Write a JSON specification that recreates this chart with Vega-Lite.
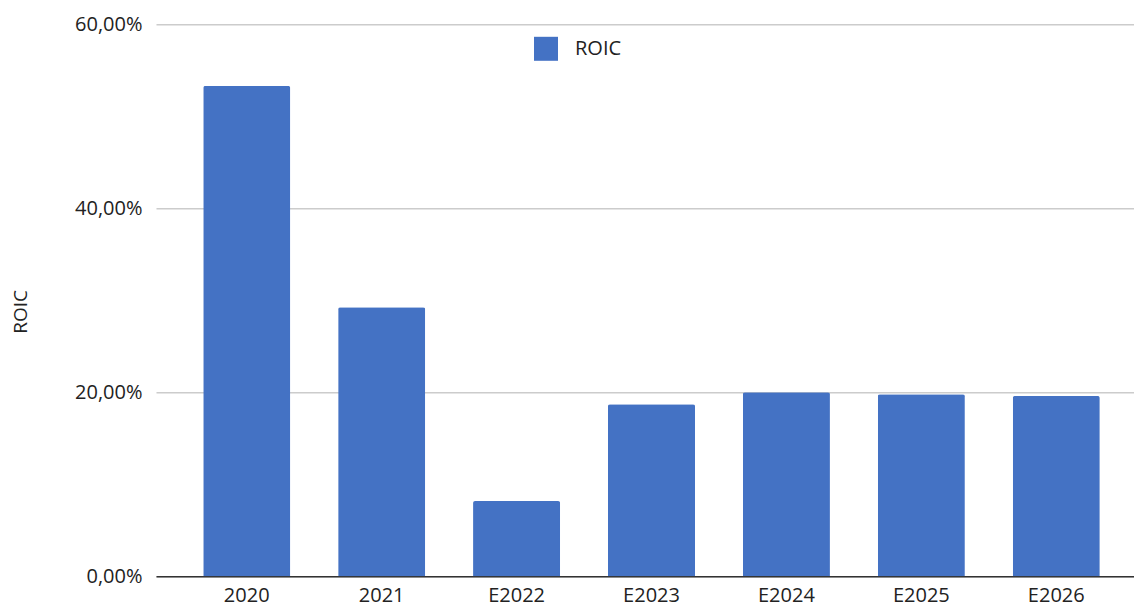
{
  "$schema": "https://vega.github.io/schema/vega-lite/v6.json",
  "autosize": {"type": "none"},
  "width": 978,
  "height": 552,
  "padding": {"left": 156, "top": 24.3, "right": 0, "bottom": 31.7},
  "background": "#ffffff",
  "config": {
    "view": {"stroke": null},
    "font": "Open Sans",
    "axis": {"labelFont": "Open Sans", "titleFont": "Open Sans"},
    "legend": {"labelFont": "Open Sans"}
  },
  "data": {
    "values": [
      {"year": "2020", "roic": 0.533, "series": "ROIC"},
      {"year": "2021", "roic": 0.2924, "series": "ROIC"},
      {"year": "E2022", "roic": 0.0818, "series": "ROIC"},
      {"year": "E2023", "roic": 0.187, "series": "ROIC"},
      {"year": "E2024", "roic": 0.2, "series": "ROIC"},
      {"year": "E2025", "roic": 0.198, "series": "ROIC"},
      {"year": "E2026", "roic": 0.196, "series": "ROIC"}
    ]
  },
  "mark": {"type": "bar", "cornerRadiusTopLeft": 2, "cornerRadiusTopRight": 2},
  "encoding": {
    "x": {
      "field": "year",
      "type": "nominal",
      "sort": null,
      "scale": {"range": [0, 991], "paddingInner": 0.355, "paddingOuter": 0.35},
      "axis": {
        "title": null,
        "labelAngle": 0,
        "labelFontSize": 20,
        "labelColor": "#222222",
        "labelPadding": 9,
        "ticks": false,
        "domainColor": "#333333",
        "domainWidth": 1.5,
        "grid": false
      }
    },
    "y": {
      "field": "roic",
      "type": "quantitative",
      "scale": {"domain": [0, 0.6], "nice": false},
      "axis": {
        "title": "ROIC",
        "titleFontSize": 19,
        "titleFontWeight": "normal",
        "titleColor": "#222222",
        "titleX": -130,
        "titleY": 287,
        "titleAngle": 270,
        "titleBaseline": "alphabetic",
        "titleAlign": "center",
        "values": [0, 0.2, 0.4, 0.6],
        "labelExpr": "replace(format(datum.value, '.2%'), '.', ',')",
        "labelFontSize": 20,
        "labelColor": "#222222",
        "labelPadding": 14,
        "ticks": false,
        "domain": false,
        "grid": true,
        "gridColor": "#cccccc",
        "gridWidth": 1.5
      }
    },
    "color": {
      "field": "series",
      "type": "nominal",
      "scale": {"range": ["#4472C4"]},
      "legend": {
        "title": null,
        "orient": "none",
        "legendX": 378,
        "legendY": 12.5,
        "padding": 0,
        "symbolType": "square",
        "symbolSize": 576,
        "symbolStrokeWidth": 0,
        "labelFontSize": 20,
        "labelColor": "#222222",
        "labelOffset": 17
      }
    }
  }
}
